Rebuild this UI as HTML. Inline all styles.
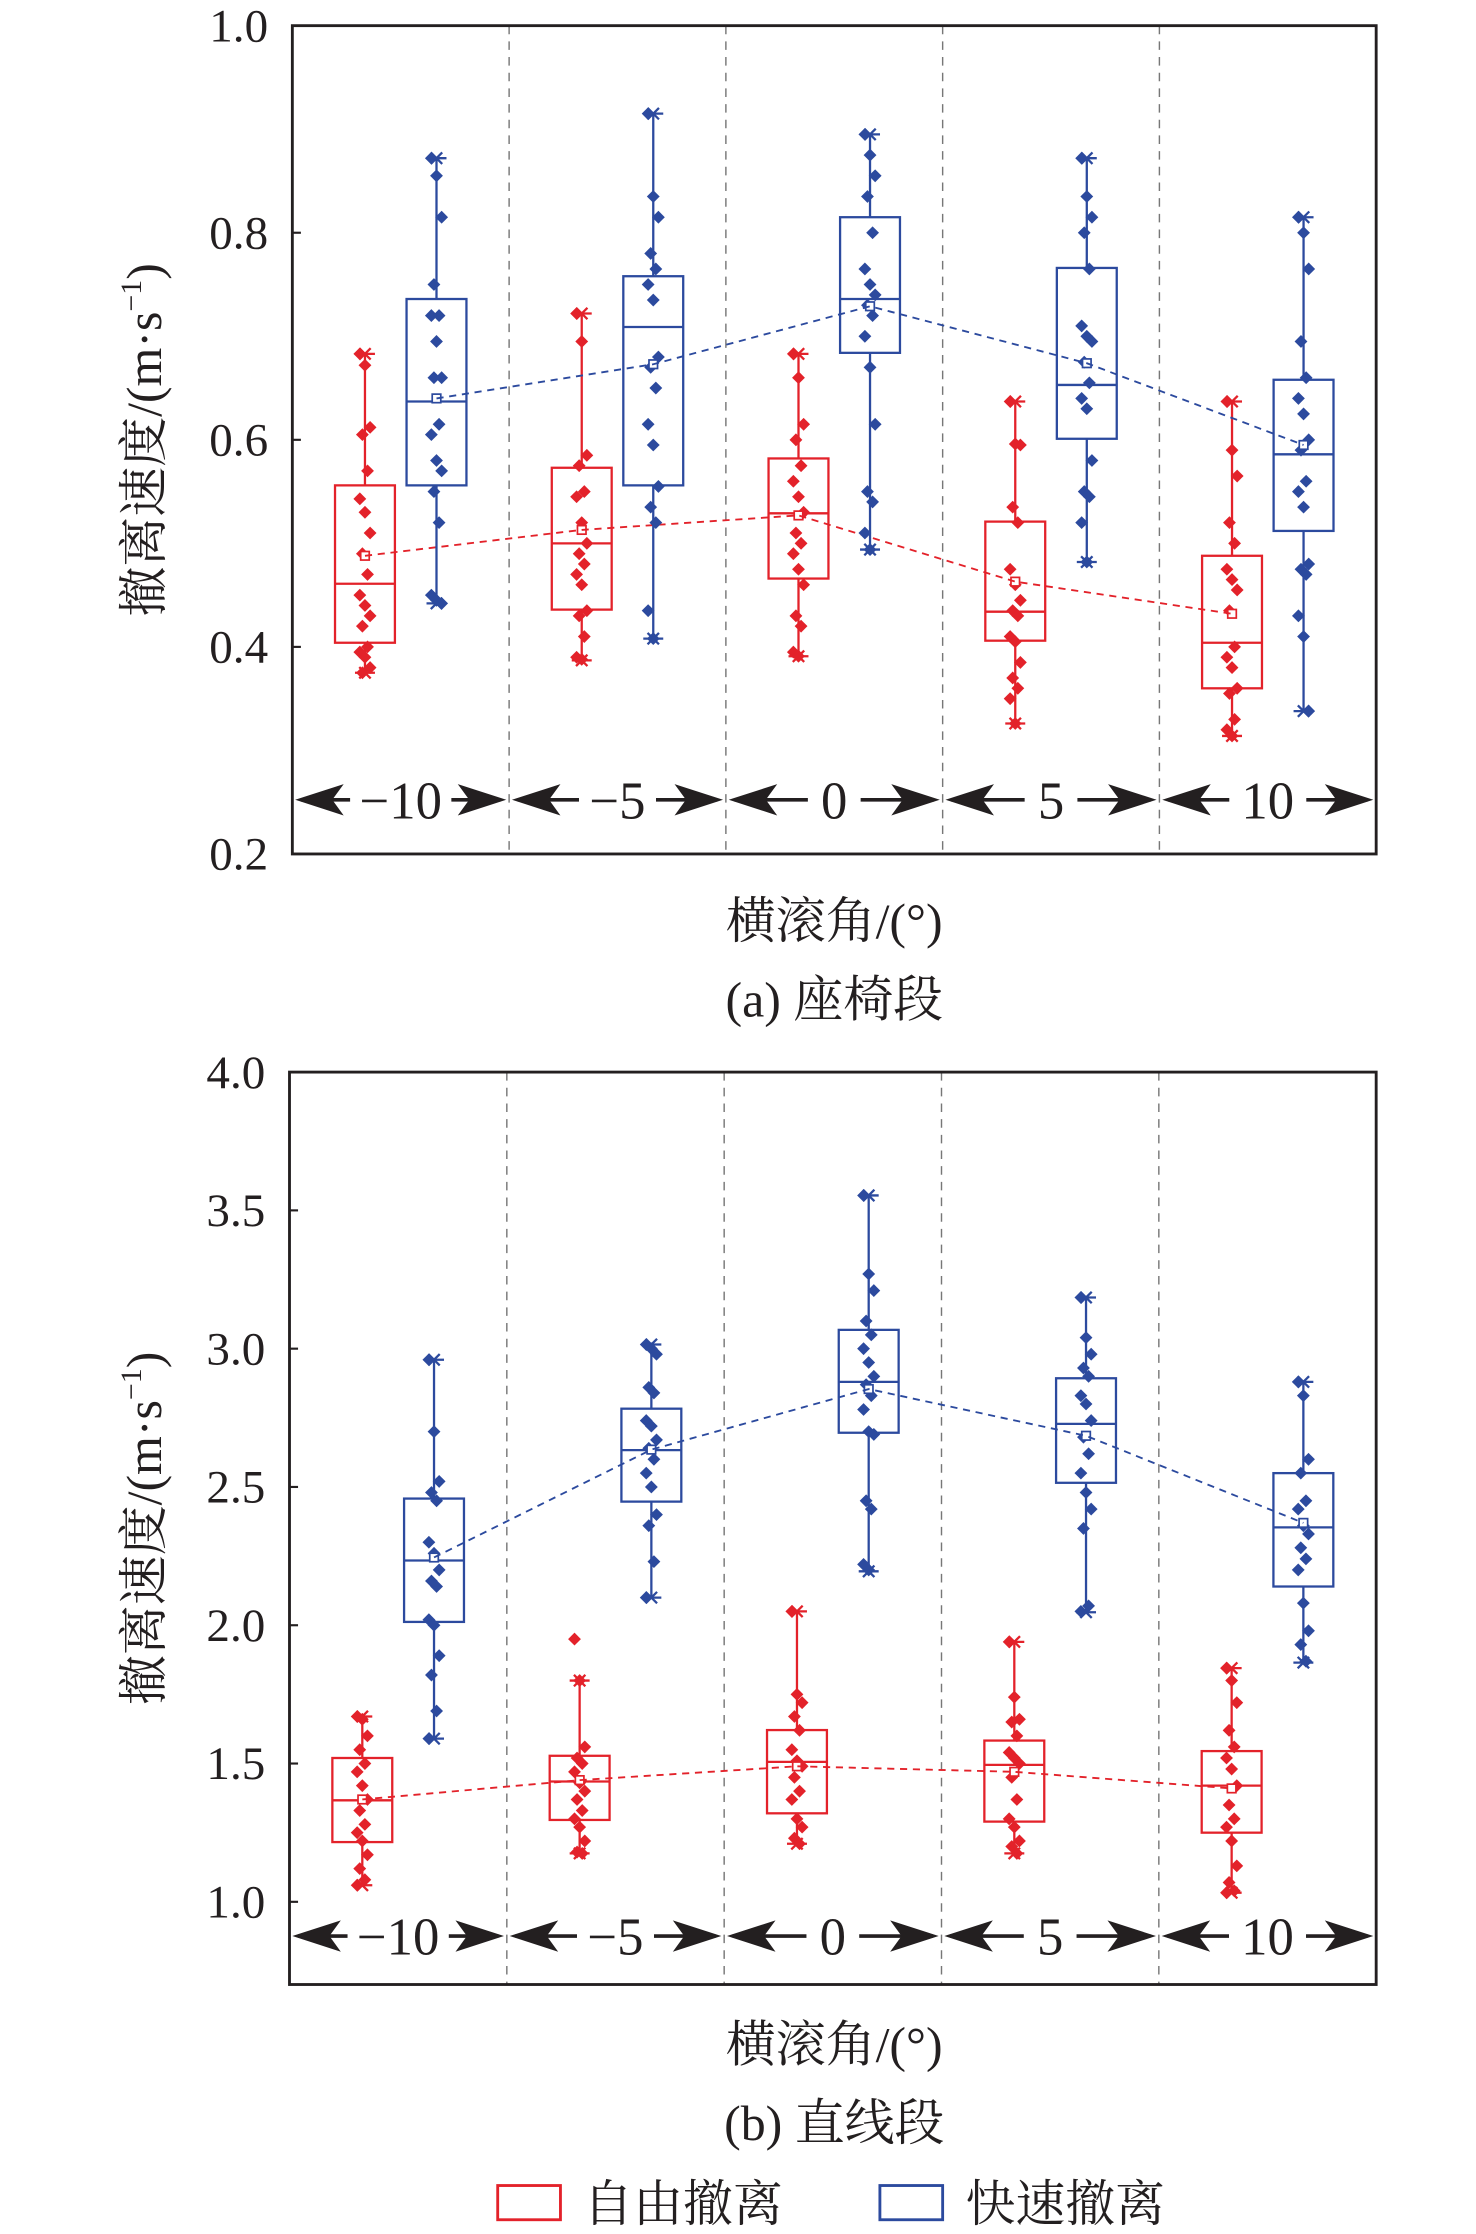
<!DOCTYPE html>
<html><head><meta charset="utf-8"><style>
html,body{margin:0;padding:0;background:#fff;}
svg{display:block;}
text{font-family:"Liberation Serif","Noto Serif CJK SC",serif;fill:#231f20;}
.cjk{font-family:"Liberation Serif","Noto Serif CJK SC","Noto Sans CJK SC",serif;}
</style></head><body>
<svg id="chart" width="1476" height="2234" viewBox="0 0 1035 1567" preserveAspectRatio="none" xmlns="http://www.w3.org/2000/svg"></svg>
<script>
// ---------- data ----------
const groups = ["-10","-5","0","5","10"];
const groupLabels = ["\u221210","\u22125","0","5","10"];
// stats: [whiskerLow, q1, median, q3, whiskerHigh, mean]
const aRedStats = [[0.375,0.404,0.461,0.556,0.683,0.488],[0.387,0.436,0.500,0.573,0.722,0.513],[0.391,0.466,0.529,0.582,0.683,0.527],[0.326,0.406,0.434,0.521,0.637,0.463],[0.314,0.360,0.404,0.488,0.637,0.432]];
const aBlueStats = [[0.442,0.556,0.637,0.736,0.872,0.640],[0.408,0.556,0.709,0.758,0.915,0.673],[0.494,0.684,0.736,0.815,0.895,0.729],[0.482,0.601,0.653,0.766,0.872,0.674],[0.338,0.512,0.586,0.658,0.815,0.595]];
const aRedPts = [
[0.683,0.672,0.612,0.605,0.57,0.543,0.53,0.51,0.49,0.47,0.45,0.44,0.43,0.42,0.40,0.395,0.39,0.38,0.375],
[0.722,0.695,0.585,0.575,0.55,0.545,0.52,0.5,0.49,0.48,0.47,0.46,0.435,0.43,0.41,0.39,0.388],
[0.683,0.66,0.615,0.6,0.575,0.56,0.545,0.53,0.51,0.5,0.49,0.475,0.46,0.43,0.42,0.395,0.391],
[0.637,0.596,0.595,0.535,0.52,0.475,0.46,0.445,0.435,0.43,0.41,0.405,0.385,0.37,0.36,0.35,0.326],
[0.637,0.59,0.565,0.52,0.5,0.475,0.465,0.455,0.435,0.4,0.39,0.38,0.36,0.355,0.33,0.32,0.314]];
const aBluePts = [
[0.872,0.855,0.815,0.75,0.72,0.72,0.695,0.66,0.66,0.615,0.605,0.58,0.57,0.55,0.52,0.45,0.445,0.442],
[0.915,0.835,0.815,0.78,0.765,0.75,0.735,0.68,0.67,0.65,0.615,0.595,0.555,0.535,0.52,0.435,0.408],
[0.895,0.875,0.855,0.835,0.8,0.765,0.75,0.74,0.73,0.72,0.7,0.67,0.615,0.55,0.54,0.51,0.494],
[0.872,0.835,0.815,0.8,0.765,0.71,0.7,0.695,0.675,0.655,0.64,0.63,0.58,0.55,0.545,0.52,0.482],
[0.815,0.8,0.765,0.695,0.66,0.64,0.625,0.6,0.59,0.56,0.55,0.535,0.48,0.475,0.47,0.43,0.41,0.338]];
const aTicks = [0.2,0.4,0.6,0.8,1.0];
const aTickLabels = ["0.2","0.4","0.6","0.8","1.0"];
const bRedStats = [[1.06,1.216,1.367,1.52,1.67,1.37],[1.175,1.296,1.435,1.528,1.80,1.44],[1.21,1.32,1.506,1.621,2.05,1.49],[1.175,1.29,1.495,1.583,1.94,1.47],[1.033,1.25,1.42,1.545,1.845,1.41]];
const bBlueStats = [[1.59,2.012,2.234,2.458,2.96,2.245],[2.10,2.447,2.633,2.783,3.015,2.635],[2.195,2.696,2.88,3.068,3.554,2.854],[2.047,2.515,2.728,2.893,3.185,2.685],[1.865,2.14,2.354,2.55,2.88,2.37]];
const bRedPts = [
[1.67,1.66,1.6,1.55,1.5,1.47,1.42,1.37,1.33,1.28,1.25,1.22,1.17,1.12,1.08,1.06],
[1.95,1.8,1.56,1.52,1.5,1.47,1.43,1.4,1.37,1.33,1.3,1.27,1.22,1.18,1.175],
[2.05,1.75,1.72,1.67,1.62,1.55,1.51,1.49,1.45,1.4,1.37,1.3,1.27,1.23,1.21],
[1.94,1.74,1.66,1.65,1.6,1.54,1.52,1.5,1.45,1.37,1.3,1.27,1.22,1.2,1.175],
[1.845,1.8,1.72,1.62,1.56,1.52,1.48,1.42,1.35,1.3,1.27,1.22,1.13,1.07,1.04,1.033]];
const bBluePts = [
[2.96,2.7,2.52,2.48,2.45,2.3,2.26,2.2,2.16,2.14,2.02,2.0,1.89,1.82,1.69,1.59],
[3.015,3.0,2.98,2.86,2.84,2.74,2.72,2.67,2.64,2.6,2.55,2.5,2.4,2.36,2.23,2.1],
[3.554,3.27,3.21,3.1,3.05,3.0,2.95,2.9,2.87,2.83,2.78,2.7,2.69,2.45,2.42,2.22,2.2],
[3.185,3.04,2.98,2.93,2.9,2.83,2.8,2.74,2.68,2.62,2.55,2.48,2.42,2.35,2.07,2.05],
[2.88,2.83,2.6,2.55,2.45,2.42,2.36,2.33,2.28,2.24,2.2,2.08,1.98,1.93,1.87]];
const bTicks = [1.0,1.5,2.0,2.5,3.0,3.5,4.0];
const bTickLabels = ["1.0","1.5","2.0","2.5","3.0","3.5","4.0"];

// ---------- drawing ----------
const NS="http://www.w3.org/2000/svg";
const svg=document.getElementById('chart');
const RED="#e3222a", BLUE="#2c4a9e";
function mk(tag,attrs,parent){const e=document.createElementNS(NS,tag);for(const k in attrs)e.setAttribute(k,attrs[k]);(parent||svg).appendChild(e);return e;}

function drawChart(cfg){
  const g=mk('g',{});
  
  
  const {x0,x1,y0,y1,vmin,vmax}=cfg;
  const yS=v=>y1-(v-vmin)/(vmax-vmin)*(y1-y0);
  const gw=(x1-x0)/groups.length;
  const xC=(i,s)=>x0+gw*i+gw*(s===0?0.335:0.665);
  for(let i=1;i<groups.length;i++){
    const l=mk('line',{x1:x0+gw*i,x2:x0+gw*i,y1:y0,y2:y1,stroke:'#777','stroke-width':1,'stroke-dasharray':'6,5'},g);
    
    
  }
  cfg.ticks.forEach((t,i)=>{
    const y=yS(t);
    mk('line',{x1:x0,x2:x0+6,y1:y,y2:y,stroke:'#231f20','stroke-width':1.5},g);
    const tx=mk('text',{x:x0-17,y:y+11,'font-size':33,'text-anchor':'end'},g);
    tx.textContent=cfg.tickLabels[i];
    
    
  });
  [[cfg.red,cfg.redPts,RED,'free'],[cfg.blue,cfg.bluePts,BLUE,'fast']].forEach(([stats,pts,col,nm],s)=>{
    const meanPts=[];
    stats.forEach((st,i)=>{
      const cx=xC(i,s), hw=21;
      const bg=mk('g',{},g);
      
      
      mk('line',{x1:cx,x2:cx,y1:yS(st[0]),y2:yS(st[1]),stroke:col,'stroke-width':1.6},bg);
      mk('line',{x1:cx,x2:cx,y1:yS(st[3]),y2:yS(st[4]),stroke:col,'stroke-width':1.6},bg);
      [st[0],st[4]].forEach(v=>{
        mk('line',{x1:cx-7,x2:cx+7,y1:yS(v),y2:yS(v),stroke:col,'stroke-width':1.6},bg);
        mk('path',{d:`M${cx-4} ${yS(v)-4}L${cx+4} ${yS(v)+4}M${cx+4} ${yS(v)-4}L${cx-4} ${yS(v)+4}`,stroke:col,'stroke-width':1.6},bg);
      });
      mk('rect',{x:cx-hw,y:yS(st[3]),width:hw*2,height:yS(st[1])-yS(st[3]),fill:'none',stroke:col,'stroke-width':1.6},bg);
      mk('line',{x1:cx-hw,x2:cx+hw,y1:yS(st[2]),y2:yS(st[2]),stroke:col,'stroke-width':1.6},bg);
      pts[i].forEach((v,j)=>{
        const dx=((j*7)%5-2)*1.8, y=yS(v), px=cx+dx;
        const d=mk('path',{d:`M${px} ${y-4.5}L${px+4.5} ${y}L${px} ${y+4.5}L${px-4.5} ${y}Z`,fill:col},bg);
        
        
      });
      const my=yS(st[5]);
      mk('rect',{x:cx-3,y:my-3,width:6,height:6,fill:'#fff',stroke:col,'stroke-width':1.2},bg);
      meanPts.push([cx,my]);
    });
    const ml=mk('polyline',{points:meanPts.map(p=>p.join(',')).join(' '),fill:'none',stroke:col,'stroke-width':1.3,'stroke-dasharray':'5,4'},g);
    
    
  });
  const fr=mk('rect',{x:x0,y:y0,width:x1-x0,height:y1-y0,fill:'none',stroke:'#231f20','stroke-width':2},g);
  
  
  const ay=cfg.arrowY;
  groups.forEach((gname,i)=>{
    const l=x0+gw*i, r=l+gw, c=l+gw/2;
    const ag=mk('g',{},g);
    
    
    const tw=groupLabels[i].length*17+12;
    mk('line',{x1:l+6,x2:c-tw/2-4,y1:ay,y2:ay,stroke:'#231f20','stroke-width':2.5},ag);
    mk('line',{x1:c+tw/2+4,x2:r-6,y1:ay,y2:ay,stroke:'#231f20','stroke-width':2.5},ag);
    mk('path',{d:`M${l+2} ${ay}L${l+36} ${ay-11}L${l+28} ${ay}L${l+36} ${ay+11}Z`,fill:'#231f20'},ag);
    mk('path',{d:`M${r-2} ${ay}L${r-36} ${ay-11}L${r-28} ${ay}L${r-36} ${ay+11}Z`,fill:'#231f20'},ag);
    mk('rect',{x:c-tw/2,y:ay-20,width:tw,height:40,fill:'#fff'},ag);
    const t=mk('text',{x:c,y:ay+13,'font-size':37,'text-anchor':'middle'},ag);
    t.textContent=groupLabels[i];
  });
  const yc=(y0+y1)/2;
  const yt=mk('text',{x:0,y:0,'font-size':35,'text-anchor':'middle',class:'cjk',transform:`translate(${cfg.ytX},${yc}) rotate(-90)`},g);
  
  
  yt.innerHTML='撤离速度/(m·s<tspan font-size="21" dy="-14">−1</tspan><tspan dy="14">)</tspan>';
  const xt=mk('text',{x:585,y:cfg.xtY,'font-size':35,'text-anchor':'middle',class:'cjk'},g);
  
  
  xt.textContent='横滚角/(°)';
  const cp=mk('text',{x:585,y:cfg.capY,'font-size':35,'text-anchor':'middle',class:'cjk'},g);
  
  
  cp.textContent=cfg.caption;
}

drawChart({name:'chart-a-seat',x0:205,x1:965,y0:18,y1:599,vmin:0.2,vmax:1.0,ticks:aTicks,tickLabels:aTickLabels,red:aRedStats,blue:aBlueStats,redPts:aRedPts,bluePts:aBluePts,arrowY:561,ytX:113,xtY:658,capY:713,caption:'(a) 座椅段'});
drawChart({name:'chart-b-straight',x0:203,x1:965,y0:752,y1:1392,vmin:0.701,vmax:4.0,ticks:bTicks,tickLabels:bTickLabels,red:bRedStats,blue:bBlueStats,redPts:bRedPts,bluePts:bBluePts,arrowY:1358,ytX:113,xtY:1446,capY:1501,caption:'(b) 直线段'});

const lg=mk('g',{});


[[349,RED,'自由撤离','legend-free'],[617,BLUE,'快速撤离','legend-fast']].forEach(([x,c,t,n])=>{
  const e=mk('g',{},lg);
  
  
  mk('rect',{x:x,y:1533,width:44,height:24,fill:'none',stroke:c,'stroke-width':2},e);
  const tx=mk('text',{x:x+60,y:1558,'font-size':35,class:'cjk'},e);
  tx.textContent=t;
});
</script>
</body></html>
